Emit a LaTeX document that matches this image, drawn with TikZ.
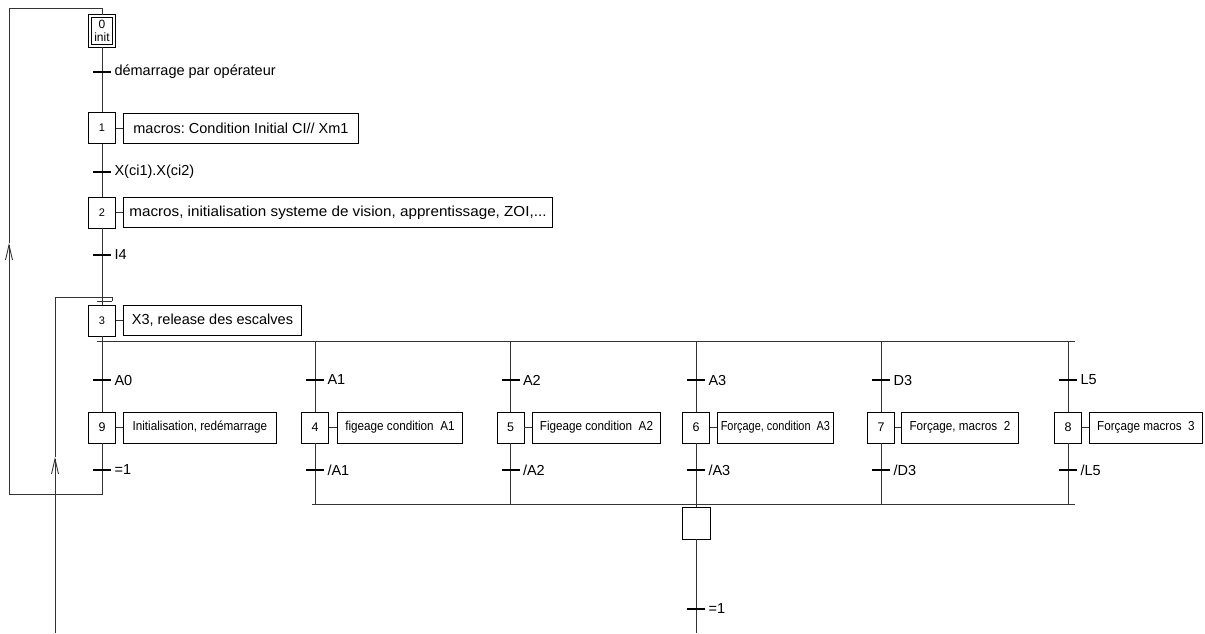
\documentclass[tikz,border=0pt]{standalone}
\usepackage{fontspec}
\setmainfont{Liberation Sans}
\newfontfamily\narrowf[FakeStretch=0.9]{Liberation Sans}
\newfontfamily\narrowerf[FakeStretch=0.84]{Liberation Sans}
\newfontfamily\widef[FakeStretch=1.05]{Liberation Sans}
\usetikzlibrary{arrows.meta}
\frenchspacing
\begin{document}
\begin{tikzpicture}[x=1pt,y=-1pt,
  line/.style={draw=black!80, line width=0.9pt},
  stepbox/.style={draw=black, line width=0.9pt, minimum width=27pt, minimum height=31pt, inner sep=0pt, font=\fontsize{11}{12}\selectfont, fill=white},
  bstep/.style={stepbox, font=\fontsize{12.5}{14}\selectfont},
  actbig/.style={draw=black, line width=0.9pt, minimum height=30pt, inner sep=0pt, anchor=west, font=\fontsize{14.5}{17}\selectfont},
  actsmall/.style={draw=black, line width=0.9pt, minimum height=31pt, inner sep=0pt, anchor=west, font=\narrowf\fontsize{13}{15}\selectfont},
  trans/.style={fill=black, minimum width=18pt, minimum height=2.2pt, inner sep=0pt, outer sep=0pt},
  tlab/.style={label distance=0pt, font=\fontsize{14.5}{17}\selectfont},
  arr/.style={-{Straight Barb[length=15pt,width=7pt]}}
]
\useasboundingbox (0,0) rectangle (1205,633);

% ---- steps of the main sequence
\node[stepbox, double, double distance=2pt, minimum width=24.2pt, minimum height=30.2pt, align=center, font=\fontsize{12}{12.5}\selectfont] (s0) at (102,31) {0\\init};
\node[stepbox] (s1) at (102,128) {1};
\node[actbig, minimum width=235pt] (a1) at (123,128) {macros: Condition Initial CI// Xm1};
\node[stepbox] (s2) at (102,212.5) {2};
\node[actbig, minimum width=429pt, font=\widef\fontsize{14.5}{17}\selectfont] (a2) at (123,212.5) {macros, initialisation systeme de vision, apprentissage, ZOI,...};
\node[stepbox] (s3) at (102,320.5) {3};
\node[actbig, minimum width=178pt] (a3) at (123,320.5) {X3, release des escalves};

% ---- branch steps
\node[bstep] (s9) at (102,427.5) {9};
\node[actsmall, minimum width=153pt] (a9) at (123,427.5) {Initialisation, redémarrage};
\node[bstep] (s4) at (315,427.5) {4};
\node[actsmall, minimum width=125pt] (a4) at (337,427.5) {figeage condition~ A1};
\node[bstep] (s5) at (510.5,427.5) {5};
\node[actsmall, minimum width=128pt] (a5) at (532,427.5) {Figeage condition~ A2};
\node[bstep] (s6) at (696,427.5) {6};
\node[actsmall, minimum width=116pt, font=\narrowerf\fontsize{13}{15}\selectfont] (a6) at (717,427.5) {Forçage, condition~ A3};
\node[bstep] (s7) at (881,427.5) {7};
\node[actsmall, minimum width=117pt] (a7) at (901,427.5) {Forçage, macros~ 2};
\node[bstep] (s8) at (1068,427.5) {8};
\node[actsmall, minimum width=113pt] (a8) at (1089,427.5) {Forçage macros~ 3};
\node[stepbox, minimum width=28pt, minimum height=32pt] (s10) at (696,523) {};

% ---- step to action links
\foreach \s/\a in {s1/a1,s2/a2,s3/a3,s9/a9,s4/a4,s5/a5,s6/a6,s7/a7,s8/a8}
  \draw[line] (\s.east) -- (\a.west);

% ---- coordinates
\coordinate (divL) at (97,341);
\coordinate (divR) at (1075,341);
\coordinate (cvL) at (312,504);
\coordinate (cvR) at (1075,504);
\coordinate (d4) at (315,341);
\coordinate (d5) at (510.5,341);
\coordinate (d6) at (696,341);
\coordinate (d7) at (881,341);
\coordinate (d8) at (1068,341);
\coordinate (c4) at (315,504);
\coordinate (c5) at (510.5,504);
\coordinate (c7) at (881,504);
\coordinate (c8) at (1068,504);
\coordinate (endA) at (696,633);
\coordinate (L1) at (102,494);
\coordinate (L2) at (9,494);
\coordinate (L3) at (9,243);
\coordinate (L4) at (9,8);
\coordinate (L5) at (102,8);
\coordinate (M1) at (55,633);
\coordinate (M2) at (55,457);
\coordinate (M3) at (55,297);
\coordinate (M4) at (112,297);
\coordinate (M5) at (112,301);
\coordinate (M6) at (97,301);

% ---- main links
\draw[line] (s0.south) -- (s1.north);
\draw[line] (s1.south) -- (s2.north);
\draw[line] (s2.south) -- (s3.north);
\draw[line] (s3.south) -- (s9.north);
\draw[line] (divL) -- (divR);
\draw[line] (cvL) -- (cvR);
\draw[line] (d4) -- (s4.north);
\draw[line] (d5) -- (s5.north);
\draw[line] (d6) -- (s6.north);
\draw[line] (d7) -- (s7.north);
\draw[line] (d8) -- (s8.north);
\draw[line] (s4.south) -- (c4);
\draw[line] (s5.south) -- (c5);
\draw[line] (s6.south) -- (s10.north);
\draw[line] (s7.south) -- (c7);
\draw[line] (s8.south) -- (c8);
\draw[line] (s10.south) -- (endA);

% ---- loops
\draw[line, arr] (s9.south) -- (L1) -- (L2) -- (L3);
\draw[line] (L3) -- (L4) -- (L5) -- (s0.north);
\draw[line, arr] (M1) -- (M2);
\draw[line] (M2) -- (M3) -- (M4) -- (M5);
\draw[line] (M6) -- (M5);

% ---- transitions
\node[trans, label={[tlab]0:démarrage par opérateur}] (t0) at (102,72) {};
\node[trans, label={[tlab]0:X(ci1).X(ci2)}] (t1) at (102,172) {};
\node[trans, label={[tlab]0:I4}] (t2) at (102,255) {};
\node[trans, label={[tlab]0:A0}] (t30) at (102,380) {};
\node[trans, label={[tlab]0:A1}] (t31) at (315,380) {};
\node[trans, label={[tlab]0:A2}] (t32) at (510.5,380) {};
\node[trans, label={[tlab]0:A3}] (t33) at (696,380) {};
\node[trans, label={[tlab]0:D3}] (t34) at (881,380) {};
\node[trans, label={[tlab]0:L5}] (t35) at (1068,380) {};
\node[trans, label={[tlab]0:=1}] (t9) at (102,470) {};
\node[trans, label={[tlab]0:/A1}] (t4) at (315,470) {};
\node[trans, label={[tlab]0:/A2}] (t5) at (510.5,470) {};
\node[trans, label={[tlab]0:/A3}] (t6) at (696,470) {};
\node[trans, label={[tlab]0:/D3}] (t7) at (881,470) {};
\node[trans, label={[tlab]0:/L5}] (t8) at (1068,470) {};
\node[trans, label={[tlab]0:=1}] (t10) at (696,609) {};
\end{tikzpicture}
\end{document}
